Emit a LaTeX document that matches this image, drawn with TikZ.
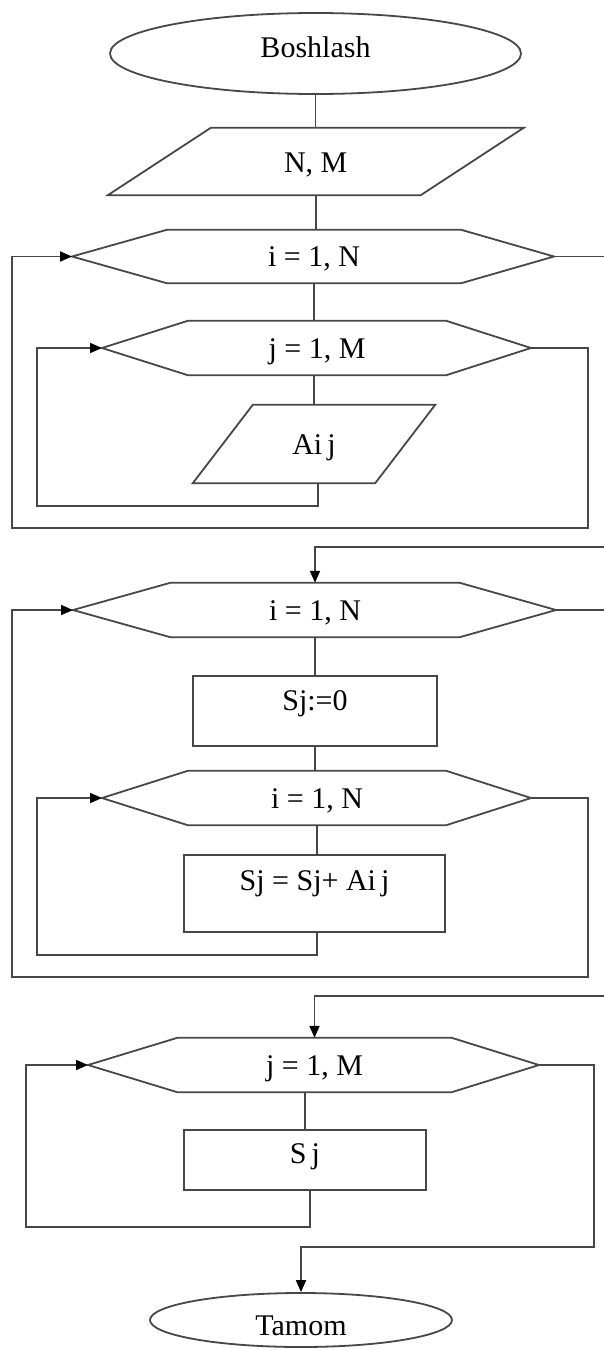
\documentclass[tikz,border=0pt]{standalone}
\usepackage{fontspec}
\setmainfont{Liberation Serif}
\usetikzlibrary{shapes.geometric,arrows.meta,calc}
\begin{document}
\begin{tikzpicture}[x=1pt,y=-1pt,
  every node/.style={font=\fontsize{30}{35}\selectfont, inner sep=0pt, text=black},
  ln/.style={draw=black!72, line width=1.8pt},
  arr/.style={ln, line join=miter, -{Triangle[length=12pt,width=10pt,color=black]}},
  term/.style={ln, ellipse},
  blk/.style={ln, rectangle},
  hexbox/.style={rectangle, text height=20pt, text depth=0pt},
  parbox/.style={rectangle, text height=21pt, text depth=0pt},
]
\useasboundingbox (0,0) rectangle (604,1350);
\clip (0,0) rectangle (604,1350);

% nodes
\node[term, minimum width=411pt, minimum height=81pt, text height=20pt, text depth=13pt] (start) at (315.5,53.5) {Boshlash};
\node[parbox, minimum width=312.5pt, minimum height=67pt] (nm) at (315.75,161.5) {N, M};
\node[hexbox, minimum width=294pt, minimum height=53pt] (h1) at (314,256.5) {i = 1, N};
\coordinate (h1w) at (72,256.5);
\coordinate (h1e) at (554,256.5);
\node[hexbox, minimum width=258pt, minimum height=54pt] (h2) at (317,348) {j = 1, M};
\coordinate (h2w) at (102,348);
\coordinate (h2e) at (531,348);
\node[parbox, minimum width=182pt, minimum height=78pt] (aij) at (314,444) {Ai\,j};
\node[hexbox, minimum width=289pt, minimum height=54pt] (h3) at (315,610) {i = 1, N};
\coordinate (h3w) at (73,610);
\coordinate (h3e) at (556,610);
\node[blk, minimum width=244pt, minimum height=70pt, text height=21pt, text depth=23pt] (s0) at (315,711) {Sj:=0};
\node[hexbox, minimum width=258pt, minimum height=54pt] (h4) at (317,798) {i = 1, N};
\coordinate (h4w) at (102,798);
\coordinate (h4e) at (531,798);
\node[blk, minimum width=261pt, minimum height=77pt, text height=21pt, text depth=28pt] (s1) at (314.5,893.5) {Sj = Sj+ Ai\,j};
\node[hexbox, minimum width=274pt, minimum height=54pt] (h5) at (314.5,1065) {j = 1, M};
\coordinate (h5w) at (88,1065);
\coordinate (h5e) at (539,1065);
\node[blk, minimum width=242pt, minimum height=60pt, text height=21pt, text depth=15pt] (sj) at (305,1160) {S\,j};
\node[term, minimum width=302pt, minimum height=54pt, text height=30pt, text depth=0pt] (end) at (301,1320) {Tamom};

% outlines of hexagons and parallelograms
\foreach \h in {h1,h2,h3,h4,h5}{
  \draw[ln] (\h w) -- (\h.north west) -- (\h.north east) -- (\h e) -- (\h.south east) -- (\h.south west) -- cycle;
}
\draw[ln] ($(nm.north west)+(51.5,0)$) -- ($(nm.north east)+(51.5,0)$) -- ($(nm.south east)-(51.5,0)$) -- ($(nm.south west)-(51.5,0)$) -- cycle;
\draw[ln] ($(aij.north west)+(30,0)$) -- ($(aij.north east)+(30,0)$) -- ($(aij.south east)-(30,0)$) -- ($(aij.south west)-(30,0)$) -- cycle;

% junction points
\coordinate (j1) at (315,547);
\coordinate (j2) at (314.5,996);
\coordinate (j3) at (301,1247);

% straight connectors
\draw[ln] (start.south) -- (start.south |- nm.north);
\draw[ln] (nm.south) -- (nm.south |- h1.north);
\draw[ln] (h1.south) -- (h1.south |- h2.north);
\draw[ln] (aij.north |- h2.south) -- (aij.north);
\draw[ln] (h3.south) -- (s0.north);
\draw[ln] (s0.south) -- (s0.south |- h4.north);
\draw[ln] (h4.south) -- (h4.south |- s1.north);
\draw[ln] (sj.north |- h5.south) -- (sj.north);

% loops
\draw[arr] ($(aij.south)+(4,0)$) |- (37,506) |- (h2w);
\draw[arr] (h2e) -- (588,348) |- (12,528) |- (h1w);
\draw[arr] (h1e) -- (620,256.5) |- (j1) -- (h3.north);
\draw[arr] ($(s1.south)+(2.5,0)$) |- (37,955) |- (h4w);
\draw[arr] (h4e) -- (588,798) |- (12,977) |- (h3w);
\draw[arr] (h3e) -- (620,610) |- (j2) -- (h5.north);
\draw[arr] ($(sj.south)+(5,0)$) |- (26,1227) |- (h5w);
\draw[arr] (h5e) -- (594,1065) |- (j3) -- (end.north);
\end{tikzpicture}
\end{document}
